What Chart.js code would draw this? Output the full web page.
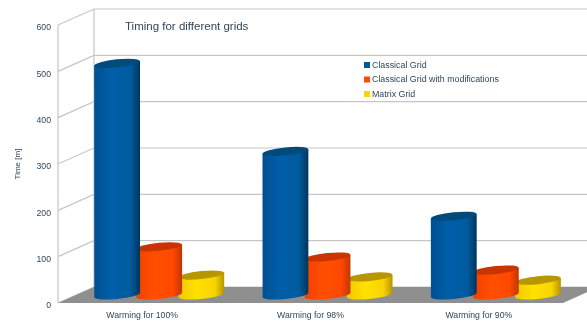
<!DOCTYPE html>
<html>
<head>
<meta charset="utf-8">
<style>
  html, body { margin: 0; padding: 0; background: #ffffff; }
  canvas { display: block; }
</style>
<script src="https://cdn.jsdelivr.net/npm/chart.js@4/dist/chart.umd.js"></script>
</head>
<body>
<canvas id="chart" width="587" height="322"></canvas>
<script>
// Timing data, in minutes
const categories = ['Warming for 100%', 'Warming for 98%', 'Warming for 90%'];
const classicalGrid = [500, 310, 170];
const classicalGridModified = [104, 82, 54];
const matrixGrid = [43, 39, 32];
const seriesNames = ['Classical Grid', 'Classical Grid with modifications', 'Matrix Grid'];
const yTicks = { min: 0, max: 600, step: 100 };
const chartTitle = 'Timing for different grids';
const yAxisTitle = 'Time [m]';

// Cylinder shading: left, middle, right edge of the body, then the lid
const shades = [
  { swatch: '#00599d', body: ['#004f92', '#005fa9', '#005a9e', '#00355a'], lid: '#004a7c' },
  { swatch: '#ff4a0a', body: ['#f04000', '#ff4f00', '#ff4800', '#c23600'], lid: '#c93400' },
  { swatch: '#ffd500', body: ['#f2c800', '#ffe000', '#f8d400', '#b59400'], lid: '#b89600' }
];

const textColor = '#33465a';
const gridColor = '#c6c6c6';
const floorColor = '#8f8f8f';

// Oblique depth of the box, and the plane the cylinders stand in
const depth = { x: 36, y: -16 };
const mid = { x: 17, y: -8 };
const lid = { ry: 4, tilt: -0.1 };

// Bars are drawn as tilted cylinders standing halfway into the box
Chart.BarElement.prototype.draw = function (ctx) {
  const { x, y, base, width } = this.getProps(['x', 'y', 'base', 'width']);
  const shade = shades.find(s => s.swatch === this.options.backgroundColor) || shades[0];
  const rx = width / 2;
  const cx = x + mid.x;
  const top = y + mid.y;
  const bottom = base + mid.y;
  const dy = Math.sin(lid.tilt) * rx;

  const g = ctx.createLinearGradient(cx - rx, 0, cx + rx, 0);
  g.addColorStop(0, shade.body[0]);
  g.addColorStop(0.4, shade.body[1]);
  g.addColorStop(0.8, shade.body[2]);
  g.addColorStop(1, shade.body[3]);

  ctx.save();
  ctx.fillStyle = g;
  ctx.beginPath();
  ctx.moveTo(cx - rx, top - dy);
  ctx.lineTo(cx + rx, top + dy);
  ctx.lineTo(cx + rx, bottom + dy);
  ctx.ellipse(cx, bottom, rx, lid.ry, lid.tilt, 0, Math.PI);
  ctx.closePath();
  ctx.fill();

  ctx.fillStyle = shade.lid;
  ctx.beginPath();
  ctx.ellipse(cx, top, rx, lid.ry, lid.tilt, 0, Math.PI * 2);
  ctx.fill();
  ctx.restore();
};

// Back wall, side wall and floor of the box
const boxPlugin = {
  id: 'box',
  beforeDatasetsDraw(chart) {
    const { ctx, chartArea: a, scales: { y } } = chart;
    ctx.save();
    ctx.strokeStyle = gridColor;
    ctx.lineWidth = 1.2;
    ctx.beginPath();
    y.ticks.forEach(t => {
      const py = y.getPixelForValue(t.value);
      ctx.moveTo(a.left, py);
      ctx.lineTo(a.left + depth.x, py + depth.y);
      ctx.lineTo(chart.width, py + depth.y);
    });
    ctx.moveTo(a.left, a.top);
    ctx.lineTo(a.left, a.bottom);
    ctx.moveTo(a.left + depth.x, a.top + depth.y);
    ctx.lineTo(a.left + depth.x, a.bottom + depth.y);
    ctx.stroke();

    ctx.fillStyle = floorColor;
    ctx.beginPath();
    ctx.moveTo(a.left, a.bottom);
    ctx.lineTo(a.left + depth.x, a.bottom + depth.y);
    ctx.lineTo(a.right + depth.x, a.bottom + depth.y);
    ctx.lineTo(a.right, a.bottom);
    ctx.closePath();
    ctx.fill();
    ctx.restore();
  }
};

// Title and legend sit inside the box, over the back wall
const captionPlugin = {
  id: 'captions',
  afterDatasetsDraw(chart) {
    const { ctx } = chart;
    ctx.save();
    ctx.textBaseline = 'middle';
    ctx.textAlign = 'left';
    ctx.fillStyle = textColor;
    ctx.font = '11.5px "Liberation Sans"';
    ctx.fillText(chartTitle, 125, 27);

    ctx.font = '8.85px "Liberation Sans"';
    chart.data.datasets.forEach((ds, i) => {
      const cy = 65 + i * 14.5;
      ctx.fillStyle = shades[i].swatch;
      ctx.fillRect(364, cy - 3, 6, 6);
      ctx.fillStyle = textColor;
      ctx.fillText(ds.label, 372, cy + 0.5);
    });
    ctx.restore();
  }
};

const seriesValues = [classicalGrid, classicalGridModified, matrixGrid];

new Chart(document.getElementById('chart'), {
  type: 'bar',
  data: {
    labels: categories,
    datasets: seriesValues.map((values, i) => ({
      label: seriesNames[i],
      data: values,
      backgroundColor: shades[i].swatch,
      categoryPercentage: 0.75,
      barPercentage: 1.09
    }))
  },
  plugins: [boxPlugin, captionPlugin],
  options: {
    responsive: false,
    animation: false,
    layout: { padding: { top: 25, right: 24, left: 0, bottom: 0 } },
    plugins: { legend: { display: false }, title: { display: false }, tooltip: { enabled: false } },
    scales: {
      x: {
        grid: { display: false, drawTicks: false },
        border: { display: false },
        ticks: { color: textColor, font: { family: 'Liberation Sans', size: 8.7 }, padding: 7, maxRotation: 0 },
        afterFit(scale) { scale.height = 19; }
      },
      y: {
        min: yTicks.min,
        max: yTicks.max,
        grid: { display: false, drawTicks: false },
        border: { display: false },
        ticks: { stepSize: yTicks.step, color: textColor, font: { family: 'Liberation Sans', size: 8.7 }, padding: 7 },
        title: {
          display: true,
          text: yAxisTitle,
          color: textColor,
          font: { family: 'Liberation Sans', size: 8 },
          padding: { top: 13, bottom: 0 }
        },
        afterFit(scale) {
          scale.width = 58;
          // Sit the value labels a little below their gridline ends
          const compute = scale._computeLabelItems.bind(scale);
          scale._computeLabelItems = area => compute(area).map(item => {
            item.options.translation[1] += 1.5;
            return item;
          });
        }
      }
    }
  }
});
</script>
</body>
</html>
